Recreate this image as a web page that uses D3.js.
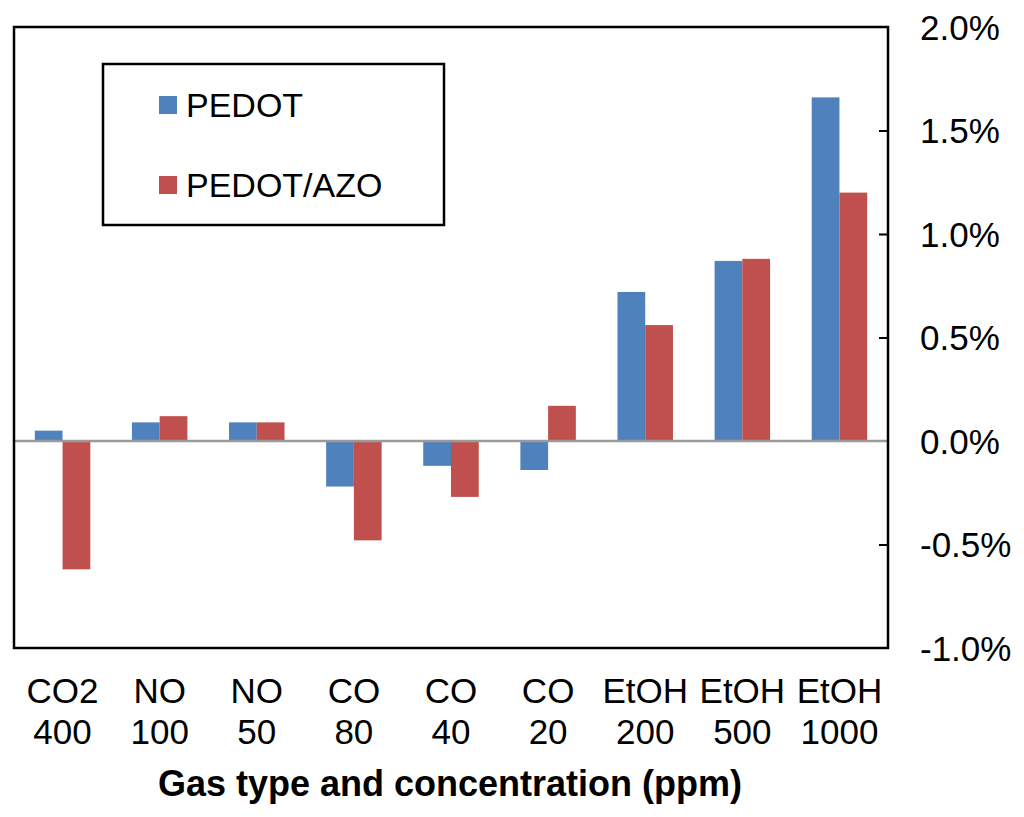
<!DOCTYPE html>
<html>
<head>
<meta charset="utf-8">
<script src="https://cdn.jsdelivr.net/npm/d3@7"></script>
<style>
  body { margin: 0; background: #fff; }
  text { font-family: "Liberation Sans", Arial, sans-serif; }
</style>
</head>
<body>
<div id="canvas"></div>
<script>
const gasTypes = ["CO2", "NO", "NO", "CO", "CO", "CO", "EtOH", "EtOH", "EtOH"];
const concentrations = ["400", "100", "50", "80", "40", "20", "200", "500", "1000"];
const pedot = [0.05, 0.09, 0.09, -0.22, -0.12, -0.14, 0.72, 0.87, 1.66];
const pedotAzo = [-0.62, 0.12, 0.09, -0.48, -0.27, 0.17, 0.56, 0.88, 1.2];
const seriesNames = ["PEDOT", "PEDOT/AZO"];
const yTicks = [-1.0, -0.5, 0.0, 0.5, 1.0, 1.5, 2.0];

const colors = ["#4F81BD", "#C0504D"];

const width = 1024;
const height = 817;
const margin = { top: 27, left: 14, bottom: 169, right: 136 };
const iwidth = width - margin.left - margin.right;
const iheight = height - margin.top - margin.bottom;

const svg = d3.select("#canvas").append("svg")
  .attr("width", width)
  .attr("height", height);

const g = svg.append("g")
  .attr("transform", `translate(${margin.left},${margin.top})`);

const idx = d3.range(gasTypes.length);

const x = d3.scaleBand()
  .domain(idx)
  .range([0, iwidth])
  .paddingInner(0.4286)
  .paddingOuter(0.2143);

const xs = d3.scaleBand()
  .domain([0, 1])
  .range([0, x.bandwidth()]);

const y = d3.scaleLinear()
  .domain([-1.0, 2.0])
  .range([iheight, 0]);

// bars
const series = [pedot, pedotAzo];
series.forEach((vals, s) => {
  g.append("g").selectAll("rect")
    .data(vals)
    .enter().append("rect")
    .attr("x", (d, i) => x(i) + xs(s))
    .attr("y", (d) => y(Math.max(0, d)))
    .attr("width", xs.bandwidth())
    .attr("height", (d) => Math.abs(y(d) - y(0)))
    .attr("fill", colors[s]);
});

// zero line
g.append("line")
  .attr("x1", 0).attr("x2", iwidth)
  .attr("y1", y(0)).attr("y2", y(0))
  .attr("stroke", "#9a9a9a")
  .attr("stroke-width", 2.5);

// right axis with inner ticks
const yAxis = g.append("g")
  .attr("transform", `translate(${iwidth},0)`)
  .call(d3.axisRight(y)
    .tickValues(yTicks)
    .tickSize(-9)
    .tickPadding(32)
    .tickFormat((d) => d.toFixed(1) + "%"));
yAxis.select(".domain").remove();
yAxis.selectAll("line").attr("stroke", "#000").attr("stroke-width", 2);
yAxis.selectAll("text")
  .attr("font-size", 35)
  .attr("fill", "#000")
  .attr("dy", "0.35em");
yAxis.selectAll(".tick").filter((d) => d === 2.0 || d === -1.0 || d === 0).select("line").remove();

// frame
g.append("rect")
  .attr("x", 0).attr("y", 0)
  .attr("width", iwidth).attr("height", iheight)
  .attr("fill", "none")
  .attr("stroke", "#000")
  .attr("stroke-width", 2.5);

// category labels
const cat = g.append("g").selectAll("text")
  .data(idx)
  .enter().append("text")
  .attr("text-anchor", "middle")
  .attr("font-size", 35)
  .attr("fill", "#000")
  .attr("x", (i) => x(i) + x.bandwidth() / 2);
cat.append("tspan")
  .attr("x", (i) => x(i) + x.bandwidth() / 2)
  .attr("y", iheight + 55)
  .text((i) => gasTypes[i]);
cat.append("tspan")
  .attr("x", (i) => x(i) + x.bandwidth() / 2)
  .attr("y", iheight + 96)
  .text((i) => concentrations[i]);

// axis title
svg.append("text")
  .attr("x", 450)
  .attr("y", 796)
  .attr("text-anchor", "middle")
  .attr("font-size", 36)
  .attr("font-weight", "bold")
  .attr("fill", "#000")
  .text("Gas type and concentration (ppm)");

// legend
const legend = svg.append("g");
legend.append("rect")
  .attr("x", 103).attr("y", 64)
  .attr("width", 341).attr("height", 161)
  .attr("fill", "#fff")
  .attr("stroke", "#000")
  .attr("stroke-width", 2.5);
seriesNames.forEach((name, s) => {
  const ly = 96 + s * 80;
  legend.append("rect")
    .attr("x", 159).attr("y", ly)
    .attr("width", 18).attr("height", 18)
    .attr("fill", colors[s]);
  legend.append("text")
    .attr("x", 186).attr("y", ly + 21)
    .attr("font-size", 34)
    .attr("fill", "#000")
    .text(name);
});
</script>
</body>
</html>
